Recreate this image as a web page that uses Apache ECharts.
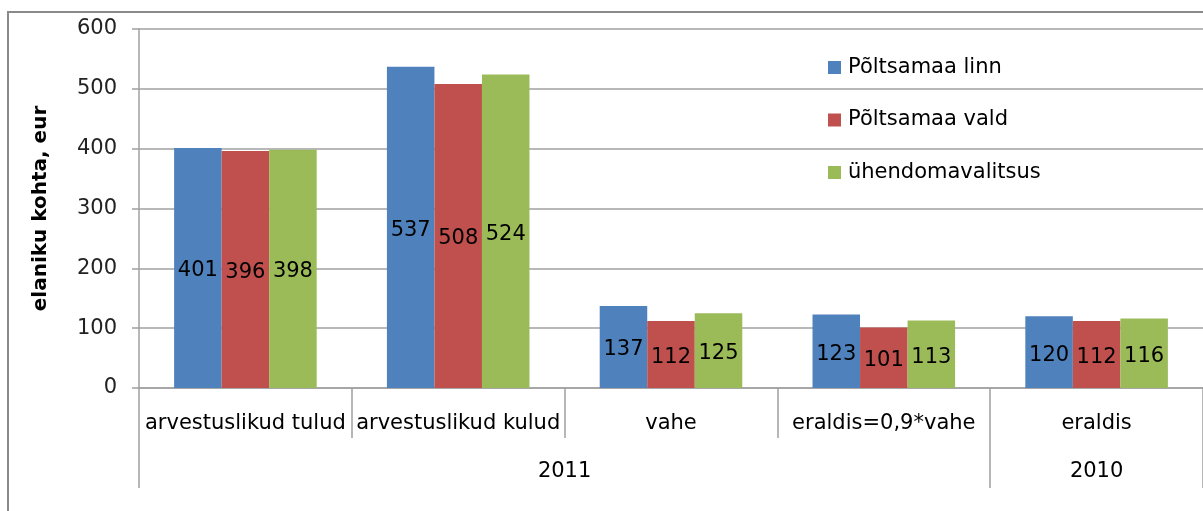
<!DOCTYPE html>
<html>
<head>
<meta charset="utf-8">
<script src="https://cdn.jsdelivr.net/npm/echarts@6/dist/echarts.min.js"></script>
<style>
  html, body { margin: 0; padding: 0; background: #fff; overflow: hidden; }
  #frame { position: absolute; left: 7px; top: 11px; width: 1300px; height: 600px; border: 2px solid #8a8a8a; }
  #chart { position: absolute; left: 0; top: 0; width: 1203px; height: 511px; }
</style>
</head>
<body>
<div id="frame"></div>
<div id="chart"></div>
<script>
// categories and the year each one belongs to
var categories = ["arvestuslikud tulud", "arvestuslikud kulud", "vahe", "eraldis=0,9*vahe", "eraldis"];
var years = ["2011", "2011", "2011", "2011", "2010"];

var seriesNames = ["Põltsamaa linn", "Põltsamaa vald", "ühendomavalitsus"];
var linnValues = [401, 537, 137, 123, 120];
var valdValues = [396, 508, 112, 101, 112];
var yhendValues = [398, 524, 125, 113, 116];

var yTicks = [0, 100, 200, 300, 400, 500, 600];

var colors = ["#4F81BD", "#C0504D", "#9BBB59"];
var font = "DejaVu Sans";
var fs = 21;

/* year groups for the second axis row */
var groupEdges = [0];
var groupCenters = [];
var groupNames = [];
var start = 0;
for (let i = 1; i <= years.length; i++) {
  if (i == years.length || years[i] != years[start]) {
    groupEdges.push(i);
    groupCenters.push((start + i) / 2);
    groupNames.push(years[start]);
    start = i;
  }
}

var dom = document.getElementById("chart");
var myChart = echarts.init(dom, null, { renderer: "canvas" });

function barSeries(name, data, color) {
  return {
    name: name,
    type: "bar",
    data: data,
    barGap: "0%",
    barCategoryGap: "33%",
    itemStyle: { color: color },
    label: {
      show: true,
      position: "inside",
      offset: [0, 3],
      color: "#000",
      fontFamily: font,
      fontSize: fs
    }
  };
}

var option = {
  animation: false,
  textStyle: { fontFamily: font },
  legend: {
    orient: "vertical",
    left: 823,
    top: 52,
    itemGap: 31.5,
    itemWidth: 13,
    itemHeight: 13,
    icon: "rect",
    textStyle: { fontSize: fs, color: "#000", fontFamily: font, padding: [0, 0, 0, 2] },
    data: seriesNames
  },
  grid: { left: 139, right: -3, top: 29, bottom: 123, containLabel: false },
  xAxis: [
    {
      type: "category",
      data: categories,
      axisLine: { lineStyle: { color: "#a0a0a0", width: 1.5 } },
      axisTick: { show: true, interval: 0, length: 50, lineStyle: { color: "#a0a0a0", width: 1.5 } },
      axisLabel: { interval: 0, margin: 25, fontSize: fs, color: "#000", fontFamily: font }
    },
    {
      type: "value",
      position: "bottom",
      offset: 50,
      min: 0,
      max: categories.length,
      splitLine: { show: false },
      axisLine: { show: false },
      axisTick: { show: true, length: 50, customValues: groupEdges, lineStyle: { color: "#a0a0a0", width: 1.5 } },
      axisLabel: {
        show: true,
        margin: 23,
        fontSize: fs,
        color: "#000",
        fontFamily: font,
        customValues: groupCenters,
        formatter: function (v) {
          var k = groupCenters.indexOf(v);
          return k >= 0 ? groupNames[k] : "";
        }
      }
    }
  ],
  yAxis: {
    type: "value",
    min: yTicks[0],
    max: yTicks[yTicks.length - 1],
    interval: 100,
    name: "elaniku kohta, eur",
    nameLocation: "middle",
    nameGap: 88,
    nameRotate: 90,
    nameTextStyle: { fontSize: 20, fontWeight: "bold", color: "#000", fontFamily: font },
    axisLine: { show: true, lineStyle: { color: "#a0a0a0", width: 1.5 } },
    axisTick: { show: true, inside: false, length: 7, lineStyle: { color: "#a0a0a0", width: 1.5 } },
    axisLabel: { margin: 22, fontSize: fs, color: "#222", fontFamily: font },
    splitLine: { show: true, lineStyle: { color: "#a0a0a0", width: 1.5 } }
  },
  series: [
    barSeries(seriesNames[0], linnValues, colors[0]),
    barSeries(seriesNames[1], valdValues, colors[1]),
    barSeries(seriesNames[2], yhendValues, colors[2])
  ]
};

myChart.setOption(option);
window.addEventListener("resize", myChart.resize);
</script>
</body>
</html>
